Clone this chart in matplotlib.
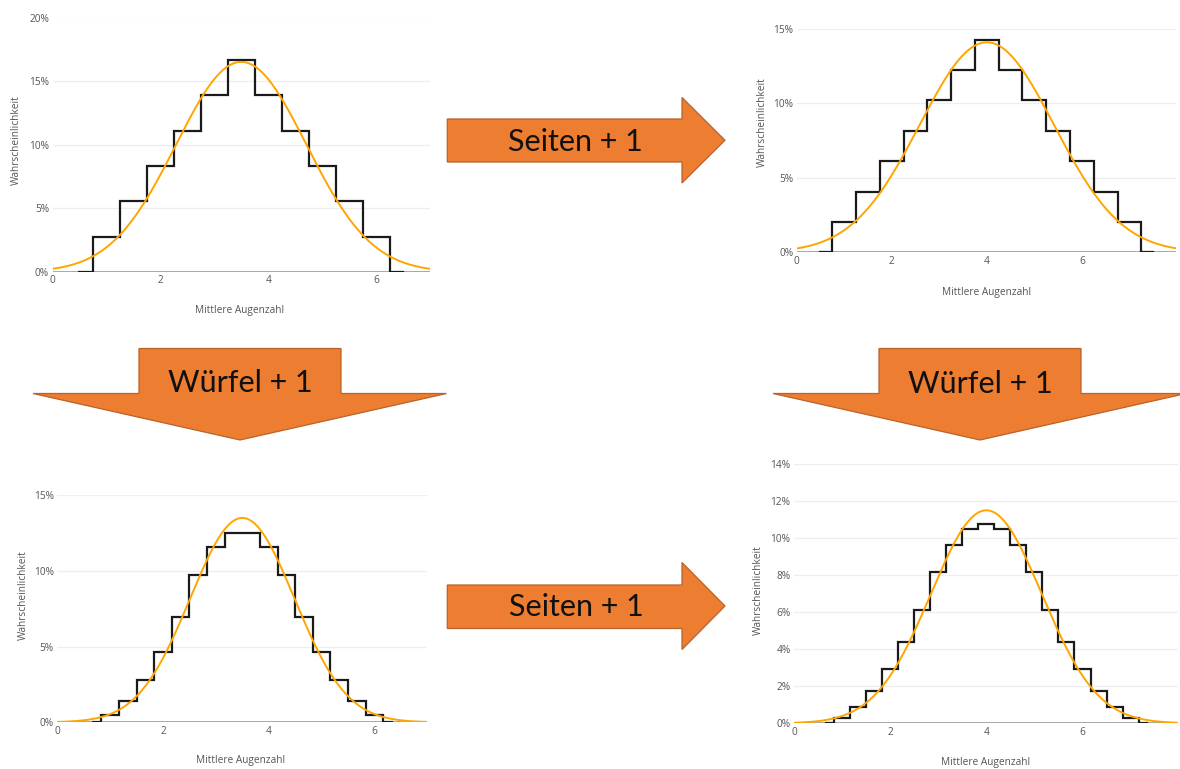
import numpy as np
import matplotlib
matplotlib.use("Agg")
import matplotlib.pyplot as plt
from matplotlib.patches import Polygon
from matplotlib.ticker import FuncFormatter

# --- Verteilung des Mittelwerts (Augenzahl) ---------------------------------
# 2 Würfel, 6 Seiten
tl_x = [0.5, 1.0, 1.5, 2.0, 2.5, 3.0, 3.5, 4.0, 4.5, 5.0, 5.5, 6.0, 6.5]
tl_p = [0, 2.78, 5.56, 8.33, 11.11, 13.89, 16.67, 13.89, 11.11, 8.33, 5.56, 2.78, 0]
tl_mu, tl_sigma, tl_bin = 3.5, 1.208, 0.5

# 2 Würfel, 7 Seiten
tr_x = [0.5, 1.0, 1.5, 2.0, 2.5, 3.0, 3.5, 4.0, 4.5, 5.0, 5.5, 6.0, 6.5, 7.0, 7.5]
tr_p = [0, 2.04, 4.08, 6.12, 8.16, 10.20, 12.24, 14.29, 12.24, 10.20, 8.16, 6.12,
        4.08, 2.04, 0]
tr_mu, tr_sigma, tr_bin = 4.0, 1.414, 0.5

# 3 Würfel, 6 Seiten
bl_x = [0.667, 1.0, 1.333, 1.667, 2.0, 2.333, 2.667, 3.0, 3.333, 3.667, 4.0, 4.333,
        4.667, 5.0, 5.333, 5.667, 6.0, 6.333]
bl_p = [0, 0.46, 1.39, 2.78, 4.63, 6.94, 9.72, 11.57, 12.50, 12.50, 11.57, 9.72,
        6.94, 4.63, 2.78, 1.39, 0.46, 0]
bl_mu, bl_sigma, bl_bin = 3.5, 0.986, 1 / 3

# 3 Würfel, 7 Seiten
br_x = [0.667, 1.0, 1.333, 1.667, 2.0, 2.333, 2.667, 3.0, 3.333, 3.667, 4.0, 4.333,
        4.667, 5.0, 5.333, 5.667, 6.0, 6.333, 6.667, 7.0, 7.333]
br_p = [0, 0.29, 0.87, 1.75, 2.92, 4.37, 6.12, 8.16, 9.62, 10.50, 10.79, 10.50,
        9.62, 8.16, 6.12, 4.37, 2.92, 1.75, 0.87, 0.29, 0]
br_mu, br_sigma, br_bin = 4.0, 1.155, 1 / 3

x_ticks = [0, 2, 4, 6]
x_title = "Mittlere Augenzahl"
y_title = "Wahrscheinlichkeit"
label_right = "Seiten + 1"
label_down = "Würfel + 1"

W, H = 1180, 769
fig = plt.figure(figsize=(W / 100, H / 100), dpi=100)
fig.patch.set_facecolor("white")

FONT = ["Open Sans", "DejaVu Sans"]
TXT = "#555555"


def px_axes(left, right, top, bottom):
    return fig.add_axes([left / W, 1 - bottom / H, (right - left) / W, (bottom - top) / H])


def panel(box, xs, ps, mu, sigma, binw, xmax, yticks, ylabel_xy, xlabel_xy):
    ax = px_axes(*box)
    ax.set_xlim(0, xmax)
    ax.set_ylim(0, yticks[-1])
    for s in ax.spines.values():
        s.set_visible(False)
    ax.set_xticks(x_ticks)
    ax.set_yticks(yticks)
    ax.yaxis.set_major_formatter(FuncFormatter(lambda v, _: f"{v:g}%"))
    ax.tick_params(length=0, labelsize=7.3, labelcolor=TXT, pad=2.5)
    for lab in ax.get_xticklabels() + ax.get_yticklabels():
        lab.set_fontfamily(FONT)
    for t in yticks[1:]:
        ax.axhline(t, color="#eeeeee", lw=0.9, zorder=0)
    ax.axhline(0, color="#9a9a9a", lw=1.2, zorder=1)
    ax.step(xs, ps, where="mid", color="#1a1a1a", lw=1.6, zorder=2,
            solid_joinstyle="miter")
    xc = np.linspace(0, xmax, 400)
    yc = 100 * binw / (sigma * np.sqrt(2 * np.pi)) * np.exp(-(xc - mu) ** 2 / (2 * sigma ** 2))
    ax.plot(xc, yc, color="#FFA500", lw=1.4, zorder=3)
    fig.text(ylabel_xy[0] / W, 1 - ylabel_xy[1] / H, y_title, rotation=90,
             ha="center", va="center", fontsize=7.3, color=TXT, family=FONT)
    fig.text(xlabel_xy[0] / W, 1 - xlabel_xy[1] / H, x_title,
             ha="center", va="center", fontsize=7.3, color=TXT, family=FONT)
    return ax


panel((52.5, 430, 17.5, 272), tl_x, tl_p, tl_mu, tl_sigma, tl_bin, 7.0,
      [0, 5, 10, 15, 20], (16, 140), (240, 311))
panel((796.7, 1176, 29, 252.3), tr_x, tr_p, tr_mu, tr_sigma, tr_bin, 7.98,
      [0, 5, 10, 15], (762, 122), (987, 292))
panel((57.3, 427.3, 495, 722.3), bl_x, bl_p, bl_mu, bl_sigma, bl_bin, 7.0,
      [0, 5, 10, 15], (23, 595), (241, 761))
panel((794, 1177.7, 464.3, 723.3), br_x, br_p, br_mu, br_sigma, br_bin, 7.98,
      [0, 2, 4, 6, 8, 10, 12, 14], (758, 590), (986, 763))

# --- Pfeile --------------------------------------------------------------------
ov = fig.add_axes([0, 0, 1, 1], zorder=10)
ov.set_xlim(0, W)
ov.set_ylim(H, 0)
ov.axis("off")
ov.patch.set_alpha(0)

ORANGE = "#ED7D31"
EDGE = "#B9622A"
ARROW_FONT = ["Lato", "DejaVu Sans"]


def arrow_right(x0, body_top, body_bot, head_x, head_top, head_bot, tip_x):
    tip_y = (head_top + head_bot) / 2
    pts = [(x0, body_top), (head_x, body_top), (head_x, head_top), (tip_x, tip_y),
           (head_x, head_bot), (head_x, body_bot), (x0, body_bot)]
    ov.add_patch(Polygon(pts, closed=True, fc=ORANGE, ec=EDGE, lw=0.9))


def arrow_down(bl, br, top, head_y, hl, hr, tip_y):
    tip_x = (bl + br) / 2
    pts = [(bl, top), (br, top), (br, head_y), (hr, head_y), (tip_x, tip_y),
           (hl, head_y), (bl, head_y)]
    ov.add_patch(Polygon(pts, closed=True, fc=ORANGE, ec=EDGE, lw=0.9))


arrow_right(447.3, 119, 162, 682, 97.5, 183, 725)
ov.text(575, 142, label_right, ha="center", va="center", fontsize=22,
        family=ARROW_FONT, color="#111111")

arrow_right(447.3, 585, 628.5, 682, 562.5, 649.5, 725)
ov.text(576, 607, label_right, ha="center", va="center", fontsize=22,
        family=ARROW_FONT, color="#111111")

arrow_down(139, 341, 348.5, 393.5, 33, 446.5, 440)
ov.text(240, 383, label_down, ha="center", va="center", fontsize=22,
        family=ARROW_FONT, color="#111111")

arrow_down(879, 1081, 348.5, 393.5, 773, 1186, 440)
ov.text(980, 384, label_down, ha="center", va="center", fontsize=22,
        family=ARROW_FONT, color="#111111")

fig.savefig("out.png", dpi=100, facecolor="white")
